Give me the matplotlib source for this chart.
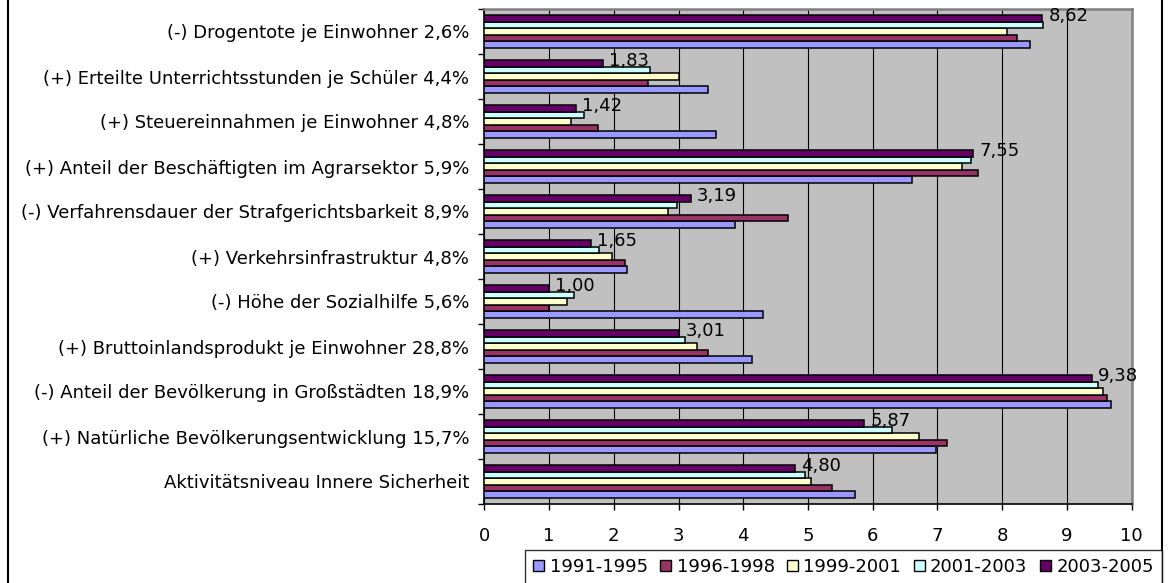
import numpy as np
import matplotlib
matplotlib.use("Agg")
import matplotlib.pyplot as plt
from matplotlib.lines import Line2D

plt.rcParams["font.family"] = ["DejaVu Sans"]
FS = 13

# ── data ─────────────────────────────────────────────────────────────────────
categories = [
    "(-) Drogentote je Einwohner 2,6%",
    "(+) Erteilte Unterrichtsstunden je Schüler 4,4%",
    "(+) Steuereinnahmen je Einwohner 4,8%",
    "(+) Anteil der Beschäftigten im Agrarsektor 5,9%",
    "(-) Verfahrensdauer der Strafgerichtsbarkeit 8,9%",
    "(+) Verkehrsinfrastruktur 4,8%",
    "(-) Höhe der Sozialhilfe 5,6%",
    "(+) Bruttoinlandsprodukt je Einwohner 28,8%",
    "(-) Anteil der Bevölkerung in Großstädten 18,9%",
    "(+) Natürliche Bevölkerungsentwicklung 15,7%",
    "Aktivitätsniveau Innere Sicherheit",
]
periods = ["1991-1995", "1996-1998", "1999-2001", "2001-2003", "2003-2005"]

v_1991_1995 = [8.43, 3.46, 3.58, 6.60, 3.87, 2.21, 4.30, 4.13, 9.68, 6.98, 5.73]
v_1996_1998 = [8.23, 2.53, 1.75, 7.62, 4.69, 2.18, 1.00, 3.46, 9.62, 7.15, 5.37]
v_1999_2001 = [8.08, 3.00, 1.34, 7.38, 2.83, 1.97, 1.28, 3.29, 9.56, 6.72, 5.05]
v_2001_2003 = [8.63, 2.56, 1.54, 7.52, 2.97, 1.77, 1.39, 3.10, 9.48, 6.30, 4.96]
v_2003_2005 = [8.62, 1.83, 1.42, 7.55, 3.19, 1.65, 1.00, 3.01, 9.38, 5.87, 4.80]

series = [v_1991_1995, v_1996_1998, v_1999_2001, v_2001_2003, v_2003_2005]
colors = ["#9999FF", "#993366", "#FFFFCC", "#CCFFFF", "#660066"]

# ── figure ───────────────────────────────────────────────────────────────────
fig = plt.figure(figsize=(11.69, 5.83), dpi=100)
ax = fig.add_axes([484.3 / 1169, 1 - 504 / 583, (1131.7 - 484.3) / 1169, (504 - 9) / 583])
ax.set_facecolor("#C0C0C0")

n = len(categories)
y = np.arange(n)
h = 0.148
# newest period on top of each group, oldest at the bottom
offsets = [2 * h, h, 0, -h, -2 * h]
for vals, off, col, lab in zip(series, offsets, colors, periods):
    ax.barh(y + off, vals, height=h, color=col, edgecolor="black",
            linewidth=1.1, label=lab, zorder=3)

# value labels on the latest period only
for yi, v in zip(y, v_2003_2005):
    ax.annotate(f"{v:.2f}".replace(".", ","), xy=(v, yi - 2 * h),
                xytext=(4.5, 1.5), textcoords="offset points",
                ha="left", va="center", fontsize=FS, zorder=5)

ax.set_xlim(0, 10)
ax.set_ylim(n - 0.5, -0.5)
ax.set_xticks(range(0, 11))
ax.tick_params(axis="x", direction="out", length=4.5, width=1,
               labelsize=FS, pad=12)
ax.set_yticks(y)
ax.set_yticklabels(categories, fontsize=FS)
ax.tick_params(axis="y", which="major", length=0, pad=11)
ax.set_yticks(np.arange(-0.5, n + 0.5, 1), minor=True)
ax.tick_params(axis="y", which="minor", direction="out", length=4.5, width=1)

ax.grid(axis="x", color="black", linewidth=0.8, zorder=1)
ax.set_axisbelow(True)

for side in ("left", "bottom"):
    ax.spines[side].set_color("black")
    ax.spines[side].set_linewidth(1.2)
for side in ("top", "right"):
    ax.spines[side].set_color("#808080")
    ax.spines[side].set_linewidth(1.8)

handles = [plt.Rectangle((0, 0), 1, 1, facecolor=c, edgecolor="black", linewidth=1.0)
           for c in colors]
leg = fig.legend(handles, periods, loc="upper right",
                 bbox_to_anchor=(1162 / 1169, 1 - 550 / 583),
                 ncol=5, fontsize=FS, frameon=True, fancybox=False,
                 handlelength=0.6, handleheight=0.6, handletextpad=0.3,
                 columnspacing=0.7, borderpad=0.45, borderaxespad=0)
leg.get_frame().set_edgecolor("black")
leg.get_frame().set_linewidth(1.0)

# chart frame edges
fig.add_artist(Line2D([7.5 / 1169, 7.5 / 1169], [0, 1], color="black", linewidth=1.5))
fig.add_artist(Line2D([1161.5 / 1169, 1161.5 / 1169], [0, 1], color="black", linewidth=1.5))

fig.savefig("out.png", dpi=100)
